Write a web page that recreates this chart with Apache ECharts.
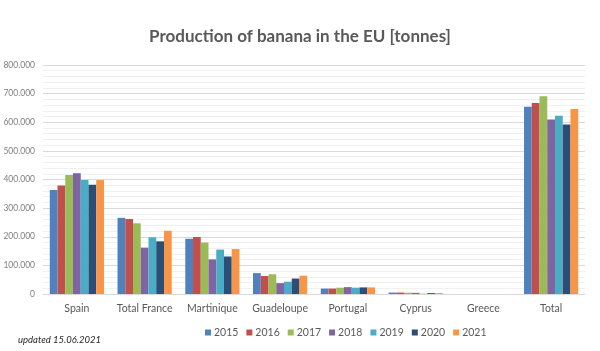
<!DOCTYPE html>
<html><head><meta charset="utf-8">
<script src="https://cdn.jsdelivr.net/npm/echarts@6/dist/echarts.min.js"></script>
<style>html,body{margin:0;padding:0;background:#fff}#c{width:600px;height:351px}</style>
</head><body><div id="c"></div>
<script>
const categories = ['Spain','Total France','Martinique','Guadeloupe','Portugal','Cyprus','Greece','Total'];
const years = ['2015','2016','2017','2018','2019','2020','2021'];
const s2015 = [363000,266000,193000,73000,19000,5000,0,654000];
const s2016 = [379000,262000,199000,63000,19000,5000,0,667000];
const s2017 = [416000,247000,180000,69000,22000,4500,0,691000];
const s2018 = [422000,162000,121000,38000,24000,4000,0,610000];
const s2019 = [398000,198000,155000,43000,22000,1000,0,623000];
const s2020 = [382000,184000,131000,54000,23000,3000,0,592000];
const s2021 = [398000,221000,157000,64000,23000,3000,0,646000];
const yTicks = [0,100000,200000,300000,400000,500000,600000,700000,800000];
const colors = ['#4f81bd','#c0504d','#9bbb59','#8064a2','#4bacc6','#2c4d75','#f79646'];
const seriesData = [s2015,s2016,s2017,s2018,s2019,s2020,s2021];

const chart = echarts.init(document.getElementById('c'));
chart.setOption({
  animation:false,
  color: colors,
  title:{text:'Production of banana in the EU [tonnes]',left:'center',top:23,
    textStyle:{fontFamily:'Lato',fontWeight:'bold',fontSize:17,color:'#595959'}},
  legend:{top:322,left:200,itemWidth:6,itemHeight:6,itemGap:8,icon:'rect',
    textStyle:{fontFamily:'Lato',fontSize:10.5,color:'#595959',padding:[0,0,0,-2]}},
  grid:{left:43,right:15,top:65,bottom:57},
  graphic:[{type:'text',left:18,top:335,style:{text:'updated 15.06.2021',font:'italic 9.5px Lato',fill:'#262626'}}],
  xAxis:{type:'category',data:categories,
    axisLine:{lineStyle:{color:'#d9d9d9'}},axisTick:{show:false},
    axisLabel:{fontFamily:'Lato',fontSize:10.5,color:'#595959',margin:9,interval:0}},
  yAxis:{type:'value',min:yTicks[0],max:yTicks[yTicks.length-1],interval:100000,
    axisLine:{show:false},axisTick:{show:false},
    axisLabel:{fontFamily:'Lato',fontSize:8.5,color:'#7f7f7f',margin:8,
      formatter:v=>v===0?'0':v.toString().replace(/\B(?=(\d{3})+(?!\d))/g,'.')},
    splitLine:{lineStyle:{color:'#d9d9d9',width:1}},
    minorTick:{show:false,splitNumber:5},
    minorSplitLine:{show:true,lineStyle:{color:'#f0f0f0',width:1}}},
  series: years.map((y,i)=>({name:y,type:'bar',data:seriesData[i],barGap:'0%',barCategoryGap:'20%'}))
});
</script></body></html>
